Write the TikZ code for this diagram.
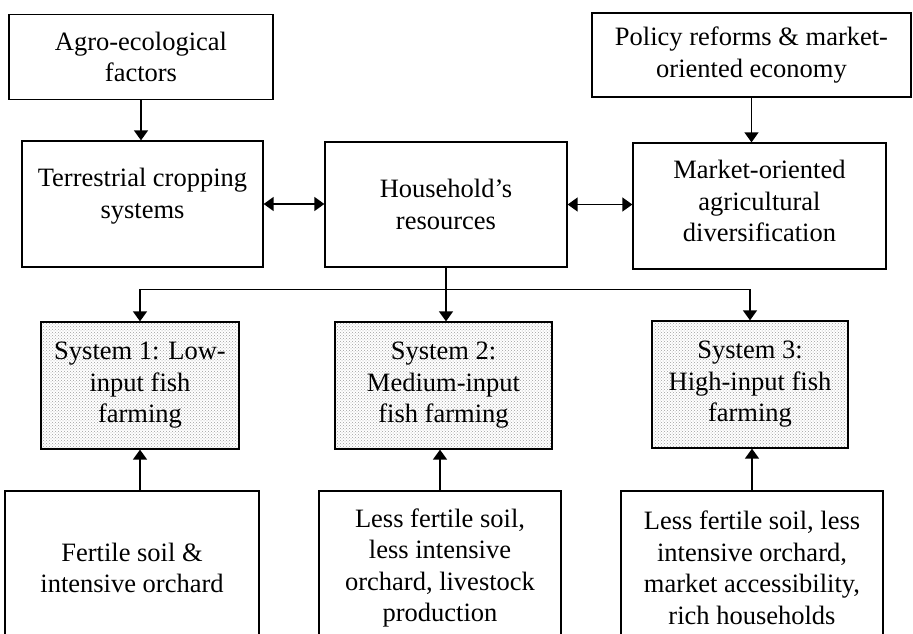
\documentclass[tikz,border=0pt]{standalone}
\usepackage{fontspec}
\setmainfont{Liberation Serif}
\usetikzlibrary{
	arrows.meta,
	positioning,
	calc,
	patterns
}

\tikzset{
	box/.style={draw, line width=1.3pt, align=center, inner sep=0pt,
		font={\fontsize{26.5}{31.5}\selectfont}},
	sysbox/.style={box, pattern=crosshatch dots, pattern color=gray!75},
	link/.style={line width=1.4pt, -{Triangle[length=10pt,width=14pt]}},
	twoway/.style={line width=1.4pt, {Triangle[length=10pt,width=14pt]}-{Triangle[length=10pt,width=14pt]}}
}

\begin{document}
\begin{tikzpicture}[x=1pt, y=-1pt]

		\clip (0,0) rectangle (913,634);

		% drivers
		\node[box, minimum width=264pt, minimum height=85pt] (agro) at (141,57) {Agro-ecological\\factors};
		\node[box, minimum width=319pt, minimum height=84pt] (policy) at (751.5,55) {Policy reforms \& market-\\oriented economy};

		% middle row
		\node[box, minimum width=241pt, minimum height=126pt] (terr) at (142.5,204) {Terrestrial cropping\\systems\\[-10pt]\mbox{}};
		\node[box, minimum width=242pt, minimum height=125pt] (house) at (446,204.5) {Household's\\resources};
		\node[box, minimum width=253pt, minimum height=126pt] (market) at (759.5,206) {Market-oriented\\agricultural\\diversification\\[-22pt]\mbox{}};

		\draw[link] (agro.south) -- (agro.south |- terr.north);
		\draw[link] (policy.south) -- (policy.south |- market.north);
		\draw[twoway] (terr.east) -- (terr.east -| house.west);
		\draw[twoway] (house.east) -- (house.east -| market.west);

		% fish farming systems
		\node[sysbox, minimum width=198pt, minimum height=127pt] (sys1) at (140,385.5) {System 1: Low-\\input fish\\farming};
		\node[sysbox, minimum width=217pt, minimum height=127pt] (sys2) at (443.5,385.5) {System 2:\\Medium-input\\fish farming};
		\node[sysbox, minimum width=196pt, minimum height=127pt] (sys3) at (750,384.5) {System 3:\\High-input fish\\farming};

		\draw[line width=1.4pt] (house.south) --++ (0,22) coordinate (bus);
		\draw[link] (bus) -| (sys1.north);
		\draw[link] (bus) -| (sys3.north);
		\draw[link] (house.south) -- (house.south |- sys2.north);

		% conditions
		\node[box, minimum width=254pt, minimum height=154pt] (cond1) at (132,568) {Fertile soil \&\\intensive orchard};
		\node[box, minimum width=242pt, minimum height=154pt] (cond2) at (440,568) {Less fertile soil,\\less intensive\\orchard, livestock\\production};
		\node[box, minimum width=262pt, minimum height=154pt] (cond3) at (752,568) {Less fertile soil, less\\intensive orchard,\\market accessibility,\\rich households};

		\draw[link] (cond1.north -| sys1.south) -- (sys1.south);
		\draw[link] (cond2.north) -- (cond2.north |- sys2.south);
		\draw[link] (cond3.north) -- (cond3.north |- sys3.south);

	\end{tikzpicture}
\end{document}
